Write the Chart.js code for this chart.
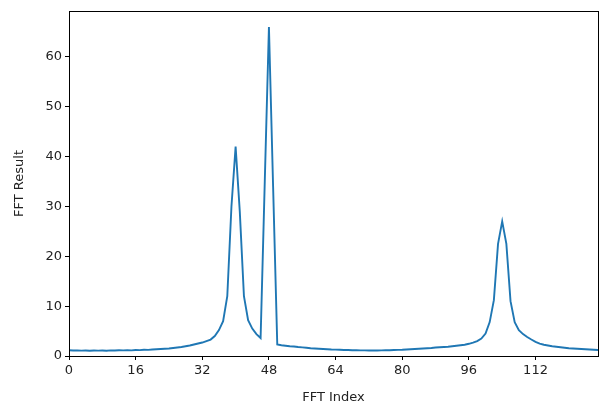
<!DOCTYPE html>
<html>
<head>
<meta charset="utf-8">
<script src="https://cdn.jsdelivr.net/npm/chart.js@4/dist/chart.umd.min.js"></script>
<style>
html,body{margin:0;padding:0;background:#fff;}
#wrap{width:600px;height:407px;position:relative;}
</style>
</head>
<body>
<div id="wrap"><canvas id="c" width="600" height="407"></canvas></div>
<script>
const fftIndex = Array.from({length: 128}, (_, i) => i);
const fftResult = [
  1.15, 1.10, 1.12, 1.08, 1.10, 1.05, 1.10, 1.08, 1.10, 1.06,
  1.12, 1.10, 1.15, 1.12, 1.15, 1.12, 1.20, 1.18, 1.25, 1.22,
  1.30, 1.35, 1.40, 1.45, 1.50, 1.60, 1.70, 1.80, 1.95, 2.10,
  2.30, 2.50, 2.70, 3.00, 3.30, 4.00, 5.20, 7.00, 12.0, 30.0,
  42.0, 29.0, 12.0, 7.20, 5.50, 4.40, 3.60, 35.0, 66.0, 34.0,
  2.30, 2.15, 2.05, 1.95, 1.90, 1.80, 1.72, 1.65, 1.55, 1.50,
  1.45, 1.40, 1.35, 1.30, 1.28, 1.25, 1.20, 1.20, 1.15, 1.15,
  1.12, 1.12, 1.10, 1.12, 1.10, 1.12, 1.15, 1.15, 1.20, 1.22,
  1.25, 1.30, 1.35, 1.40, 1.45, 1.50, 1.55, 1.60, 1.70, 1.75,
  1.80, 1.85, 1.95, 2.05, 2.15, 2.25, 2.45, 2.70, 3.00, 3.50,
  4.50, 6.80, 11.2, 22.5, 27.0, 22.5, 11.0, 6.80, 5.20, 4.40,
  3.80, 3.30, 2.85, 2.50, 2.25, 2.10, 1.95, 1.85, 1.75, 1.65,
  1.55, 1.50, 1.45, 1.40, 1.35, 1.30, 1.25, 1.20
];
const xTicks = [0, 16, 32, 48, 64, 80, 96, 112];
const yTicks = [0, 10, 20, 30, 40, 50, 60];

const FONT = 'DejaVu Sans';
const frame = {
  id: 'frame',
  afterDatasetsDraw(chart) {
    const {ctx, chartArea: a} = chart;
    ctx.save();
    ctx.strokeStyle = '#000';
    ctx.lineWidth = 1;
    ctx.strokeRect(Math.round(a.left) + 0.5, Math.round(a.top) + 0.5,
                   Math.round(a.right - a.left), Math.round(a.bottom - a.top));
    ctx.restore();
  }
};

new Chart(document.getElementById('c'), {
  type: 'line',
  data: {
    datasets: [{
      data: fftIndex.map((x, i) => ({x, y: fftResult[i]})),
      borderColor: '#1f77b4',
      borderWidth: 1.9,
      pointRadius: 0,
      tension: 0,
      fill: false
    }]
  },
  options: {
    responsive: false,
    animation: false,
    devicePixelRatio: 1,
    layout: {padding: {top: 11, right: 2, left: 0, bottom: 0}},
    plugins: {legend: {display: false}, tooltip: {enabled: false}},
    scales: {
      x: {
        type: 'linear',
        min: 0, max: 127,
        afterFit(s) { s.height = 51; },
        afterBuildTicks(s) { s.ticks = xTicks.map(v => ({value: v})); },
        grid: {drawOnChartArea: false, drawTicks: true, tickLength: 4, color: '#000'},
        border: {display: true, color: '#000'},
        ticks: {color: '#222', padding: 3, maxRotation: 0, autoSkip: false,
                font: {family: FONT, size: 13}},
        title: {display: true, text: 'FFT Index', color: '#222',
                font: {family: FONT, size: 13}, padding: {top: 0, bottom: 2}}
      },
      y: {
        type: 'linear',
        min: 0, max: 69.2,
        afterFit(s) { s.width = 69; },
        afterBuildTicks(s) { s.ticks = yTicks.map(v => ({value: v})); },
        grid: {drawOnChartArea: false, drawTicks: true, tickLength: 4, color: '#000'},
        border: {display: true, color: '#000'},
        ticks: {color: '#222', padding: 3, autoSkip: false,
                font: {family: FONT, size: 13}},
        title: {display: true, text: 'FFT Result', color: '#222',
                font: {family: FONT, size: 13}, padding: {top: 12, bottom: 0}}
      }
    }
  },
  plugins: [frame]
});
</script>
</body>
</html>
